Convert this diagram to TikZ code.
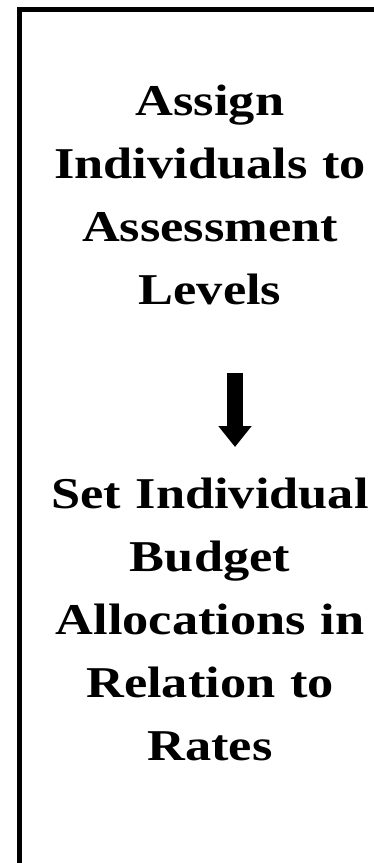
\documentclass[tikz,border=0pt]{standalone}
\usepackage{fontspec}
\setmainfont{Liberation Serif}[FakeStretch=1.19]
\usetikzlibrary{arrows.meta}
\begin{document}
\begin{tikzpicture}[x=1pt,y=-1pt,
  lbl/.style={align=center,font=\fontsize{44}{63}\selectfont\bfseries,inner sep=0pt,text width=370pt},
  frame/.style={line width=5pt,draw=black}]
\useasboundingbox (0,0) rectangle (373,863);
\draw[frame] (19.5,900) -- (19.5,9.5) -- (400,9.5);
\node[lbl,anchor=base] (top) at (210,115) {Assign\\Individuals to\\Assessment\\Levels};
\node[lbl,anchor=base] (bot) at (210,508) {Set Individual\\Budget\\Allocations in\\Relation to\\Rates};
\coordinate (a1) at (235,373);
\coordinate (a2) at (235,447);
\draw[line width=16pt,-{Triangle[width=32pt,length=21pt]}] (a1) -- (a2);
\end{tikzpicture}
\end{document}
